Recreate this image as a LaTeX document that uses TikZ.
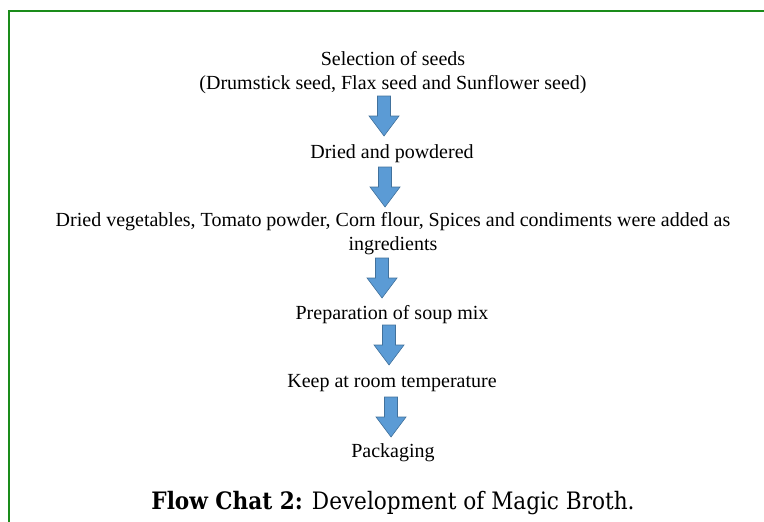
\documentclass[tikz,border=0pt]{standalone}
\usepackage{fontspec}
\setmainfont{Liberation Serif}
\newfontfamily\capfont{DejaVu Serif Condensed}
\definecolor{framegreen}{HTML}{1A8C1A}
\definecolor{arrowfill}{HTML}{5B9BD5}
\definecolor{arrowline}{HTML}{41719C}
\newcommand{\blockarrow}[2]{%
  \fill[arrowfill,draw=arrowline,line width=0.6pt]
    ([xshift=-6.5pt]#1,#2) -- ([xshift=6.5pt]#1,#2) -- ++(0,-20pt) -- ++(8.5pt,0)
    -- ++(-15pt,-20pt) -- ++(-15pt,20pt) -- ++(8.5pt,0) -- cycle;}
\tikzset{
  steptext/.style={font=\fontsize{20}{24}\selectfont, align=center, inner sep=0pt, anchor=center},
}
\begin{document}
\begin{tikzpicture}[x=1pt,y=-1pt]
\useasboundingbox (0,0) rectangle (764,522);
% frame
\draw[framegreen,line width=2.6pt] (9,522) -- (9,11) -- (764,11);
% texts
\node[steptext] (s1) at (393,72.5) {Selection of seeds\\(Drumstick seed, Flax seed and Sunflower seed)};
\node[steptext] (s2) at (392,153.5) {Dried and powdered};
\node[steptext] (s3) at (393,233.5) {Dried vegetables, Tomato powder, Corn flour, Spices and condiments were added as\\ingredients};
\node[steptext] (s4) at (392,314.5) {Preparation of soup mix};
\node[steptext] (s5) at (392,383.5) {Keep at room temperature};
\node[steptext] (s6) at (393,452.5) {Packaging};
\node[font=\capfont\fontsize{24}{28}\selectfont, inner sep=0pt] (cap) at (393,503) {\textbf{Flow Chat 2:} Development of Magic Broth.};
% arrows
\blockarrow{384}{96}
\blockarrow{385}{167}
\blockarrow{382}{258}
\blockarrow{389}{325}
\blockarrow{391}{397}
\end{tikzpicture}
\end{document}
